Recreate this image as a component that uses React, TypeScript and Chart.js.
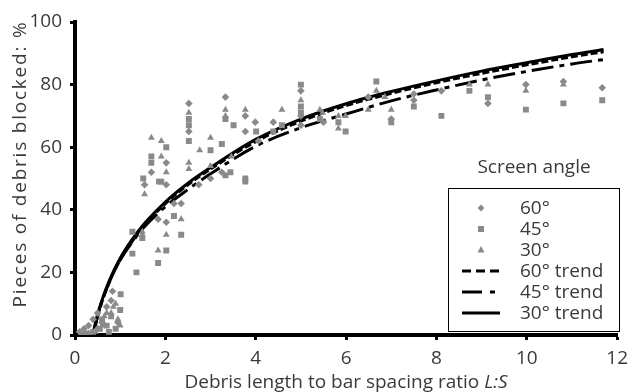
import React, { useEffect, useRef } from "react";
import { Chart, registerables } from "chart.js";

Chart.register(...registerables);

// Observed points [L:S, % blocked]
const deg60: [number, number][] = [
  [0.1, 1], [0.2, 2], [0.3, 3], [0.4, 5], [0.5, 7], [0.6, 4], [0.7, 9], [0.8, 11], [0.83, 14], [0.95, 4], [0.5, 2], [0.3, 0.5],
  [1.54, 48], [1.84, 37], [2.02, 36], [2.19, 42], [2.35, 42], [2.74, 48], [1.69, 52], [2.02, 55], [2.02, 48], [2.52, 74],
  [2.52, 65], [3.0, 50], [3.33, 76], [3.25, 52], [3.77, 70], [3.77, 65], [3.99, 68], [4.06, 62], [4.39, 68], [5.0, 78],
  [5.0, 70], [5.0, 67], [5.5, 68], [6.49, 76], [7.0, 69], [7.5, 77], [7.5, 75], [8.11, 78], [9.14, 74], [9.98, 80],
  [10.81, 81], [11.67, 79],
];
const deg45: [number, number][] = [
  [0.15, 0], [0.25, 0.5], [0.4, 1], [0.55, 2], [0.6, 5], [0.7, 3], [0.8, 6], [0.9, 2], [1.0, 8], [1.01, 13], [0.75, 1],
  [1.36, 20], [1.27, 26], [1.27, 33], [1.49, 31], [1.84, 23], [2.02, 27], [2.19, 38], [2.35, 32], [1.86, 49], [3.77, 49],
  [1.51, 50], [1.69, 55], [1.69, 57], [2.02, 60], [1.91, 49], [2.52, 69], [2.52, 67], [2.52, 62], [3.0, 59], [3.25, 61],
  [3.33, 69], [3.51, 67], [3.33, 51], [3.44, 52], [3.77, 50], [4.01, 65], [4.39, 65], [4.58, 67], [5.0, 80], [5.0, 73],
  [5.0, 71], [5.42, 69], [5.83, 68], [5.99, 65], [6.67, 81], [7.0, 68], [7.5, 73], [8.11, 70], [8.73, 78], [9.14, 76],
  [9.98, 72], [10.81, 74], [11.67, 75],
];
const deg30: [number, number][] = [
  [0.3, 0], [0.45, 1], [0.6, 3], [0.65, 6], [0.7, 7], [0.8, 7], [0.85, 9], [0.95, 5], [1.0, 3], [0.9, 10],
  [1.49, 33], [1.84, 27], [2.02, 32], [2.35, 37], [1.54, 45], [1.49, 32], [1.69, 63], [1.91, 62], [1.91, 57], [2.02, 52],
  [2.52, 71], [2.52, 55], [2.52, 53], [2.76, 59], [3.0, 63], [3.0, 54], [3.33, 72], [3.33, 70], [3.46, 57], [3.77, 72],
  [4.58, 72], [5.0, 75], [5.42, 72], [5.48, 71], [5.83, 70], [5.83, 66], [5.99, 70], [6.49, 72], [6.67, 78], [6.86, 76],
  [7.0, 72], [8.73, 80], [9.14, 80], [9.98, 78], [10.81, 80],
];

// Trend lines
const trend60X = [0.4, 0.45, 0.5, 0.6, 0.75, 1, 1.25, 1.5, 2, 2.5, 3, 4, 5, 6, 7, 8, 9, 10, 11, 11.7];
const trend60Y = [0, 3.0, 6.0, 10.8, 16.6, 24, 29.6, 34.5, 42, 48, 53, 61.8, 68.3, 73.3, 77.2, 80.6, 83.6, 86.3, 88.9, 90.5];
const trend45X = [0.4, 0.45, 0.5, 0.6, 0.75, 1, 1.25, 1.5, 2, 2.5, 3, 4, 5, 6, 7, 8, 9, 10, 11, 11.7];
const trend45Y = [0, 3.0, 6.0, 10.8, 16.6, 24, 29.3, 34, 41, 46.5, 51.5, 60.3, 66.2, 70.6, 74.8, 78.3, 81.5, 84.2, 86.6, 88];
const trend30X = [0.39, 0.45, 0.5, 0.6, 0.75, 1, 1.25, 1.5, 2, 2.5, 3, 4, 5, 6, 7, 8, 9, 10, 11, 11.7];
const trend30Y = [0, 3.7, 6.6, 11.3, 17.1, 24.5, 30.2, 35, 42.5, 48.5, 53.5, 62.5, 69, 73.9, 77.8, 81.2, 84.3, 87.0, 89.6, 91.2];

const xTicks = [0, 2, 4, 6, 8, 10, 12];
const yTicks = [0, 20, 40, 60, 80, 100];

const legendLabels = ["60°", "45°", "30°", "60° trend", "45° trend", "30° trend"];

const FONT = "'Open Sans', 'Noto Sans', sans-serif";
const GREY = "#8a8a8a";
const TEXT = "#3a3a3a";
const DASH60 = [7, 3];
const DASH45 = [22, 6, 5, 6];

const toPts = (a: [number, number][]) => a.map(([x, y]) => ({ x, y }));
const zipPts = (xs: number[], ys: number[]) => xs.map((x, i) => ({ x, y: ys[i] }));

function spacingFor(ctx: CanvasRenderingContext2D, text: string, target: number) {
  (ctx as any).letterSpacing = "0px";
  const w = ctx.measureText(text).width;
  const n = Math.max(1, text.length - 1);
  return Math.max(0, (target - w) / n);
}

const decorPlugin = {
  id: "decor",
  afterDraw(chart: any) {
    const ctx: CanvasRenderingContext2D = chart.ctx;
    const area = chart.chartArea;
    ctx.save();
    // X title with italic L:S
    ctx.fillStyle = TEXT;
    ctx.textBaseline = "alphabetic";
    const part1 = "Debris length to bar spacing ratio ";
    const part2 = "L:S";
    ctx.font = `19px ${FONT}`;
    const w1 = ctx.measureText(part1).width;
    ctx.font = `italic 19px ${FONT}`;
    const w2 = ctx.measureText(part2).width;
    const cx = (area.left + area.right) / 2;
    const sx = cx - (w1 + w2) / 2;
    ctx.textAlign = "left";
    ctx.font = `19px ${FONT}`;
    ctx.fillText(part1, sx, 388);
    ctx.font = `italic 19px ${FONT}`;
    ctx.fillText(part2, sx + w1, 388);

    // Y title
    ctx.save();
    ctx.translate(21, 164);
    ctx.rotate(-Math.PI / 2);
    ctx.font = `19px ${FONT}`;
    const yTitle = "Pieces of debris blocked: %";
    const sp = spacingFor(ctx, yTitle, 285);
    (ctx as any).letterSpacing = `${sp}px`;
    const wy = ctx.measureText(yTitle).width;
    ctx.textAlign = "left";
    ctx.textBaseline = "middle";
    ctx.fillText(yTitle, -wy / 2, 0);
    (ctx as any).letterSpacing = "0px";
    ctx.restore();

    // Legend
    ctx.font = `19px ${FONT}`;
    ctx.textAlign = "center";
    ctx.textBaseline = "middle";
    ctx.fillStyle = TEXT;
    ctx.fillText("Screen angle", 534, 168);
    ctx.fillStyle = "#fff";
    ctx.fillRect(448, 188, 172, 144);
    ctx.strokeStyle = "#000";
    ctx.lineWidth = 1;
    ctx.strokeRect(448.5, 188.5, 171, 143);
    const rows = [208, 229, 250, 271, 292, 313];
    const mx = 481;
    ctx.fillStyle = GREY;
    let y = rows[0];
    ctx.beginPath();
    ctx.moveTo(mx, y - 3.5); ctx.lineTo(mx + 3.5, y); ctx.lineTo(mx, y + 3.5); ctx.lineTo(mx - 3.5, y); ctx.closePath(); ctx.fill();
    y = rows[1];
    ctx.fillRect(mx - 3, y - 3, 6, 6);
    y = rows[2];
    ctx.beginPath();
    ctx.moveTo(mx, y - 4); ctx.lineTo(mx + 3.5, y + 2.5); ctx.lineTo(mx - 3.5, y + 2.5); ctx.closePath(); ctx.fill();
    ctx.strokeStyle = "#000";
    ctx.lineWidth = 3;
    const dashes = [[9, 5], [20, 8, 5, 8], []];
    for (let i = 0; i < 3; i++) {
      ctx.setLineDash(dashes[i]);
      ctx.beginPath();
      ctx.moveTo(462, rows[3 + i]);
      ctx.lineTo(500, rows[3 + i]);
      ctx.stroke();
    }
    ctx.setLineDash([]);
    ctx.fillStyle = TEXT;
    ctx.textAlign = "left";
    legendLabels.forEach((t, i) => ctx.fillText(t, 520, rows[i] + 1));
    ctx.restore();
  },
};

export default function App() {
  const ref = useRef<HTMLCanvasElement | null>(null);
  useEffect(() => {
    if (!ref.current) return;
    const scatterDs = (label: string, data: [number, number][], style: string, r: number) => ({
      type: "scatter" as const,
      label,
      data: toPts(data),
      pointStyle: style,
      pointRadius: r,
      pointBackgroundColor: GREY,
      pointBorderColor: GREY,
      pointBorderWidth: 0,
      showLine: false,
    });
    const lineDs = (label: string, xs: number[], ys: number[], dash: number[]) => ({
      type: "line" as const,
      label,
      data: zipPts(xs, ys),
      borderColor: "#000",
      borderWidth: 3,
      borderDash: dash,
      pointRadius: 0,
      fill: false,
      cubicInterpolationMode: "monotone" as const,
    });
    const chart = new Chart(ref.current, {
      type: "scatter",
      data: {
        datasets: [
          scatterDs("60°", deg60, "rectRot", 3.8),
          scatterDs("45°", deg45, "rect", 4.2),
          scatterDs("30°", deg30, "triangle", 4),
          lineDs("60° trend", trend60X, trend60Y, DASH60),
          lineDs("45° trend", trend45X, trend45Y, DASH45),
          lineDs("30° trend", trend30X, trend30Y, []),
        ] as any,
      },
      options: {
        animation: false,
        responsive: false,
        maintainAspectRatio: false,
        layout: { padding: { top: 22, right: 13, left: 0, bottom: 0 } },
        plugins: { legend: { display: false }, tooltip: { enabled: false } },
        scales: {
          x: {
            type: "linear",
            min: 0,
            max: 12,
            afterFit: (s: any) => { s.height = 57; },
            afterBuildTicks: (s: any) => { s.ticks = xTicks.map((v) => ({ value: v })); },
            ticks: { color: TEXT, font: { family: FONT, size: 19 }, padding: 7 },
            grid: { drawOnChartArea: false, drawTicks: true, tickLength: 5, tickColor: "#000", tickWidth: 3 },
            border: { color: "#000", width: 4 },
          },
          y: {
            type: "linear",
            min: 0,
            max: 100,
            afterFit: (s: any) => { s.width = 75; },
            afterBuildTicks: (s: any) => { s.ticks = yTicks.map((v) => ({ value: v })); },
            ticks: { color: TEXT, font: { family: FONT, size: 19 }, padding: 8 },
            grid: { drawOnChartArea: false, drawTicks: true, tickLength: 5, tickColor: "#000", tickWidth: 3 },
            border: { color: "#000", width: 4 },
          },
        },
      },
      plugins: [decorPlugin],
    } as any);
    return () => chart.destroy();
  }, []);
  return (
    <div style={{ position: "fixed", left: 0, top: 0, width: 635, height: 392, background: "#fff" }}>
      <canvas ref={ref} width={635} height={392} style={{ width: 635, height: 392 }} />
    </div>
  );
}
